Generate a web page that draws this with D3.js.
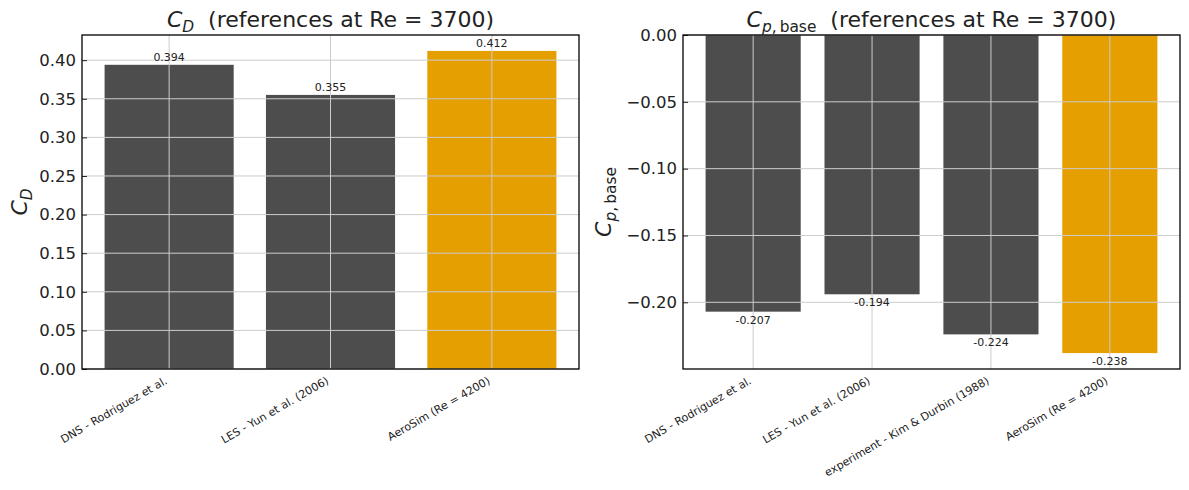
<!DOCTYPE html>
<html>
<head>
<meta charset="utf-8">
<script src="https://cdn.jsdelivr.net/npm/d3@7"></script>
<style>
	body { margin: 0; background: #fff; }
	text { font-family: 'DejaVu Sans', sans-serif; fill: #222; }
</style>
</head>
<body>
<div id="chart"></div>
<script>
// values
const cdLabels = ['DNS - Rodriguez et al.', 'LES - Yun et al. (2006)', 'AeroSim (Re = 4200)'];
const cdValues = [0.394, 0.355, 0.412];
const cdTicks = [0, 0.05, 0.1, 0.15, 0.2, 0.25, 0.3, 0.35, 0.4];

const cpLabels = [
	'DNS - Rodriguez et al.',
	'LES - Yun et al. (2006)',
	'experiment - Kim & Durbin (1988)',
	'AeroSim (Re = 4200)',
];
const cpValues = [-0.207, -0.194, -0.224, -0.238];
const cpTicks = [0, -0.05, -0.1, -0.15, -0.2];

const refColor = '#4d4d4d',
	simColor = '#e69f00';

// set the dimensions of each panel
const marginTop = 35,
	width = 497,
	height = 334;

const svg = d3
	.select('#chart')
	.append('svg')
	.attr('width', 1189)
	.attr('height', 490);

// math-like label: italic C with a subscript
const mathLabel = (sel, sub, rest, size) => {
	sel.append('tspan').style('font-style', 'italic').text('C');
	const s = sel.append('tspan').attr('dy', size * 0.24).style('font-size', size * 0.7 + 'px');
	sub.forEach((p) => {
		s.append('tspan')
			.style('font-style', p.italic ? 'italic' : 'normal')
			.attr('dx', p.dx || 0)
			.text(p.t);
	});
	if (rest) {
		sel.append('tspan').attr('dy', -size * 0.24).text(rest);
	}
};

const drawPanel = (left, labels, values, ticks, sub, ylabelOffset) => {
	const g = svg.append('g').attr('transform', `translate(${left},${marginTop})`);
	const n = values.length;
	const pad = 0.05 * (n - 1 + 0.8);
	const x = d3
		.scaleLinear()
		.domain([-0.4 - pad, n - 1 + 0.4 + pad])
		.range([0, width]);
	const neg = d3.max(values) <= 0;
	const y = d3
		.scaleLinear()
		.domain(neg ? [d3.min(values) * 1.05, 0] : [0, d3.max(values) * 1.05])
		.range([height, 0]);

	// bars
	values.forEach((v, i) => {
		g.append('rect')
			.attr('x', x(i - 0.4))
			.attr('width', x(0.8) - x(0))
			.attr('y', y(Math.max(0, v)))
			.attr('height', Math.abs(y(v) - y(0)))
			.style('fill', i == n - 1 ? simColor : refColor);
	});

	// grid on top of the bars
	ticks.forEach((t) => {
		g.append('line')
			.attr('x1', 0)
			.attr('x2', width)
			.attr('y1', y(t))
			.attr('y2', y(t))
			.style('stroke', '#cccccc')
			.style('stroke-width', 1);
	});
	values.forEach((v, i) => {
		g.append('line')
			.attr('x1', x(i))
			.attr('x2', x(i))
			.attr('y1', 0)
			.attr('y2', height)
			.style('stroke', '#cccccc')
			.style('stroke-width', 1);
	});

	// value labels
	values.forEach((v, i) => {
		g.append('text')
			.attr('x', x(i))
			.attr('y', v >= 0 ? y(v) - 4 : y(v) + 4)
			.attr('dominant-baseline', v >= 0 ? 'auto' : 'hanging')
			.attr('text-anchor', 'middle')
			.style('font-size', '11px')
			.text(v.toFixed(3));
	});

	// y axis
	const yAxis = g
		.append('g')
		.call(
			d3
				.axisLeft(y)
				.tickValues(ticks)
				.tickSize(-5)
				.tickPadding(6)
				.tickFormat(d3.format('.2f'))
		);
	yAxis.select('.domain').remove();
	yAxis.selectAll('line').style('stroke', '#222');
	yAxis
		.selectAll('text')
		.attr('font-family', null)
		.style('font-size', '16.5px')
		.style('fill', '#222');

	// x tick labels, rotated
	labels.forEach((d, i) => {
		g.append('text')
			.attr('transform', `translate(${x(i) - 5},${height + 7}) rotate(-30)`)
			.attr('text-anchor', 'end')
			.attr('dominant-baseline', 'hanging')
			.style('font-size', '11px')
			.text(d);
	});

	// frame
	g.append('rect')
		.attr('width', width)
		.attr('height', height)
		.style('fill', 'none')
		.style('stroke', '#000')
		.style('stroke-width', 1.3);

	// title
	const title = g
		.append('text')
		.attr('x', width / 2)
		.attr('y', -8)
		.attr('text-anchor', 'middle')
		.style('font-size', '22px')
		.style('white-space', 'pre');
	mathLabel(title, sub, '  (references at Re = 3700)', 22);

	// y label
	const ylab = g
		.append('text')
		.attr('transform', `translate(${-ylabelOffset},${height / 2}) rotate(-90)`)
		.attr('text-anchor', 'middle')
		.style('font-size', '22px');
	mathLabel(ylab, sub, null, 22);
};

drawPanel(82, cdLabels, cdValues, cdTicks, [{ t: 'D', italic: true }], 55);
drawPanel(
	683,
	cpLabels,
	cpValues,
	cpTicks,
	[
		{ t: 'p', italic: true },
		{ t: ',', italic: false },
		{ t: 'base', italic: false, dx: 3 },
	],
	72
);
</script>
</body>
</html>
